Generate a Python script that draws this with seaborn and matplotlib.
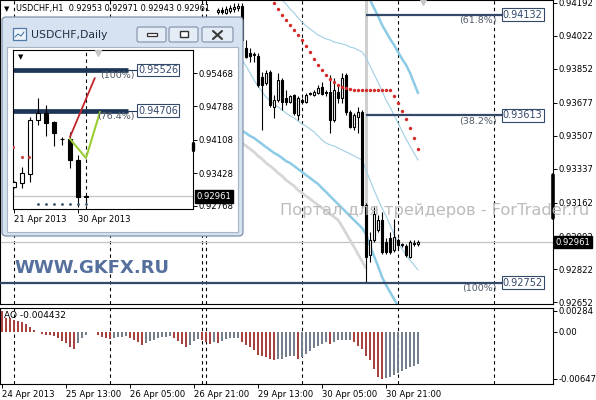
import numpy as np
import pandas as pd
import matplotlib
matplotlib.use("Agg")
import matplotlib.pyplot as plt
import matplotlib.patches as mpatches
import matplotlib.transforms as mtransforms
import seaborn as sns

W, H = 596, 400

# ---------------- H1 candles (bar index 104 = current bar) ----------------
bars = list(range(54, 105))
opens = [0.94146, 0.94156, 0.94141, 0.94151, 0.94161, 0.94166, 0.94177, 0.93960, 0.93935, 0.93924,
         0.93919, 0.93811, 0.93780, 0.93837, 0.93656, 0.93692, 0.93795, 0.93703, 0.93682, 0.93718,
         0.93615, 0.93692, 0.93682, 0.93723, 0.93718, 0.93728, 0.93759, 0.93734, 0.93734, 0.93589,
         0.93734, 0.93703, 0.93821, 0.93631, 0.93553, 0.93605, 0.93631, 0.93152, 0.92894, 0.92971,
         0.93023, 0.93074, 0.92961, 0.92982, 0.92920, 0.92971, 0.92946, 0.92941, 0.92884, 0.92956,
         0.92953]
highs = [0.94166, 0.94171, 0.94177, 0.94182, 0.94192, 0.94192, 0.94192, 0.94001, 0.93960, 0.93940,
         0.93935, 0.93837, 0.93847, 0.93847, 0.93718, 0.93832, 0.93806, 0.93744, 0.93718, 0.93723,
         0.93713, 0.93703, 0.93728, 0.93734, 0.93744, 0.93770, 0.93785, 0.93744, 0.93821, 0.93806,
         0.93770, 0.93832, 0.93832, 0.93641, 0.93625, 0.93656, 0.93641, 0.93162, 0.93013, 0.93141,
         0.93100, 0.93116, 0.92982, 0.93013, 0.93080, 0.92982, 0.92956, 0.92951, 0.92971, 0.92971,
         0.92971]
lows = [0.94135, 0.94135, 0.94135, 0.94141, 0.94146, 0.94151, 0.93991, 0.93909, 0.93888, 0.93888,
        0.93759, 0.93538, 0.93770, 0.93656, 0.93600, 0.93682, 0.93641, 0.93667, 0.93677, 0.93615,
        0.93589, 0.93677, 0.93677, 0.93718, 0.93713, 0.93723, 0.93718, 0.93713, 0.93523, 0.93579,
        0.93677, 0.93677, 0.93615, 0.93548, 0.93538, 0.93523, 0.93136, 0.92755, 0.92858, 0.92961,
        0.93013, 0.92900, 0.92900, 0.92900, 0.92910, 0.92931, 0.92936, 0.92884, 0.92879, 0.92941,
        0.92943]
closes = [0.94156, 0.94146, 0.94161, 0.94166, 0.94171, 0.94177, 0.94001, 0.93914, 0.93919, 0.93929,
          0.93770, 0.93770, 0.93832, 0.93667, 0.93692, 0.93795, 0.93682, 0.93682, 0.93713, 0.93625,
          0.93703, 0.93682, 0.93718, 0.93728, 0.93734, 0.93754, 0.93723, 0.93728, 0.93589, 0.93744,
          0.93703, 0.93806, 0.93631, 0.93553, 0.93615, 0.93631, 0.93152, 0.92884, 0.92971, 0.93105,
          0.93074, 0.92910, 0.92910, 0.92910, 0.92987, 0.92946, 0.92951, 0.92894, 0.92961, 0.92951,
          0.92961]

# indicator lines on the H1 chart
env_up_bars = list(range(91, 105))
env_up = [0.94248, 0.94207, 0.94166, 0.94125, 0.94079, 0.94043, 0.94007, 0.93976, 0.93940, 0.93904,
          0.93873, 0.93832, 0.93780, 0.93728]
bb_up_bars = list(range(70, 105))
bb_up = [0.94207, 0.94187, 0.94161, 0.94141, 0.94115, 0.94094, 0.94074, 0.94058, 0.94043, 0.94027,
         0.94017, 0.94007, 0.94001, 0.93991, 0.93986, 0.93981, 0.93976, 0.93965, 0.93960, 0.93950,
         0.93940, 0.93909, 0.93868, 0.93826, 0.93785, 0.93739, 0.93692, 0.93656, 0.93615, 0.93574,
         0.93533, 0.93492, 0.93455, 0.93419, 0.93383]
bb_low_bars = list(range(60, 105))
bb_low = [0.93898, 0.93868, 0.93832, 0.93795, 0.93764, 0.93734, 0.93708, 0.93687, 0.93672, 0.93656,
          0.93641, 0.93625, 0.93610, 0.93600, 0.93584, 0.93569, 0.93558, 0.93543, 0.93528, 0.93507,
          0.93487, 0.93471, 0.93461, 0.93456, 0.93445, 0.93435, 0.93425, 0.93415, 0.93404, 0.93394,
          0.93383, 0.93332, 0.93280, 0.93229, 0.93182, 0.93136, 0.93095, 0.93049, 0.93002, 0.92956,
          0.92925, 0.92894, 0.92868, 0.92843, 0.92817]
env_low_bars = list(range(60, 100))
env_low = [0.93533, 0.93522, 0.93507, 0.93497, 0.93481, 0.93466, 0.93450, 0.93435, 0.93420, 0.93409,
           0.93394, 0.93378, 0.93368, 0.93353, 0.93337, 0.93322, 0.93306, 0.93291, 0.93275, 0.93260,
           0.93239, 0.93219, 0.93198, 0.93177, 0.93157, 0.93136, 0.93116, 0.93095, 0.93074, 0.93054,
           0.93033, 0.93002, 0.92941, 0.92889, 0.92838, 0.92781, 0.92740, 0.92704, 0.92668, 0.92632]
ma_bars = list(range(60, 92))
ma_gray = [0.93471, 0.93456, 0.93440, 0.93425, 0.93404, 0.93389, 0.93368, 0.93353, 0.93337, 0.93317,
           0.93301, 0.93280, 0.93265, 0.93250, 0.93229, 0.93214, 0.93198, 0.93183, 0.93167, 0.93152,
           0.93136, 0.93121, 0.93105, 0.93090, 0.93074, 0.93043, 0.93007, 0.92971, 0.92936, 0.92899,
           0.92863, 0.92827]
sar_bars = list(range(68, 105))
sar = [0.94192, 0.94161, 0.94130, 0.94104, 0.94079, 0.94053, 0.94027, 0.94001, 0.93971, 0.93940,
       0.93904, 0.93873, 0.93847, 0.93821, 0.93801, 0.93785, 0.93770, 0.93759, 0.93754, 0.93749,
       0.93744, 0.93744, 0.93744, 0.93744, 0.93744, 0.93744, 0.93744, 0.93744, 0.93744, 0.93744,
       0.93713, 0.93677, 0.93636, 0.93595, 0.93548, 0.93497, 0.93440]

fib_levels = [0.94132, 0.93613, 0.92752]
fib_names = ["(61.8%)", "(38.2%)", "(100%)"]
fib_start = [91, 91, -0.5]
fib_end = 130.75
current = 0.92961

price_ticks = [0.94192, 0.94022, 0.93852, 0.93677, 0.93507, 0.93337, 0.93162, 0.92992, 0.92822, 0.92652]
separators = [3, 27, 50.1, 51.1, 75, 99, 123]
date_pos = [0, 16, 32, 48, 64, 80, 96]
date_labels = ["24 Apr 2013", "25 Apr 13:00", "26 Apr 05:00", "26 Apr 21:00",
               "29 Apr 13:00", "30 Apr 05:00", "30 Apr 21:00"]

# ---------------- Awesome Oscillator ----------------
ao = [0.00284, 0.00190, 0.00181, 0.00158, 0.00144, 0.00126, 0.00098, 0.00066, 0.00021, 0.0,
      -0.00039, -0.00042, -0.00048, -0.00057, -0.00094, -0.00130, -0.00162, -0.00208, -0.00240, -0.00162,
      -0.00094, -0.00048, 0.0, 0.0, -0.00048, -0.00071, -0.00094, -0.00103, -0.00094, -0.00080,
      -0.00071, -0.00066, -0.00094, -0.00117, -0.00149, -0.00185, -0.00162, -0.00130, -0.00117, -0.00094,
      -0.00080, -0.00071, -0.00068, -0.00094, -0.00130, -0.00176, -0.00208, -0.00180, -0.00125, -0.00100,
      -0.00120, -0.00150, -0.00165, -0.00140, -0.00160, -0.00135, -0.00100, -0.00095, -0.00092, -0.00090,
      -0.00146, -0.00183, -0.00215, -0.00260, -0.00320, -0.00338, -0.00352, -0.00375, -0.00397, -0.00380,
      -0.00372, -0.00352, -0.00340, -0.00330, -0.00375, -0.00352, -0.00306, -0.00261, -0.00229, -0.00201,
      -0.00169, -0.00146, -0.00169, -0.00146, -0.00123, -0.00120, -0.00118, -0.00115, -0.00146, -0.00192,
      -0.00238, -0.00329, -0.00397, -0.00512, -0.00626, -0.00647, -0.00640, -0.00622, -0.00600, -0.00572,
      -0.00543, -0.00512, -0.00488, -0.00466, -0.004432]
ao_bars = list(range(len(ao)))

# ---------------- Daily inset ----------------
days = list(range(10))
d_open = [0.93154, 0.93235, 0.93418, 0.94514, 0.94656, 0.94473, 0.94128, 0.94128, 0.93702, 0.92953]
d_high = [0.93280, 0.93560, 0.94575, 0.94961, 0.94818, 0.94493, 0.94169, 0.94270, 0.93803, 0.92991]
d_low = [0.93130, 0.93133, 0.93255, 0.94412, 0.94189, 0.93986, 0.94006, 0.93540, 0.92748, 0.92829]
d_close = [0.93255, 0.93438, 0.94514, 0.94656, 0.94453, 0.94250, 0.94138, 0.93702, 0.92951, 0.92961]
d_levels = [0.95526, 0.94706]
d_names = ["(100%)", "(76.4%)"]
d_ticks = [0.95468, 0.94788, 0.94108, 0.93428, 0.92768]
d_red_x = [7, 10.1]
d_red_y = [0.94169, 0.95366]
d_green_x = [7, 9, 10.75]
d_green_y = [0.94128, 0.93742, 0.94676]
d_sar_x = [-0.1, 1, 1.9]
d_sar = [0.93966, 0.93763, 0.93763]
d_dots_x = [3, 4, 5, 6, 7, 8, 9]
d_dots = [0.92809] * 7

sns.set_theme(style="white")
plt.rcParams["font.family"] = ["DejaVu Sans"]

RED = "#b8322f"
GRAY = "#6f7f90"
FIB = "#34486a"
FS = 6.1

fig = plt.figure(figsize=(W / 100, H / 100), dpi=100)
fig.patch.set_facecolor("white")


def px_axes(x0, y0, x1, y1, z=1):
    return fig.add_axes([x0 / W, 1 - y1 / H, (x1 - x0) / W, (y1 - y0) / H], zorder=z)


def candles(ax, x, o, h, l, c, width, lw=0.8):
    x, o, h, l, c = map(np.asarray, (x, o, h, l, c))
    ax.vlines(x, l, h, color="black", lw=lw, zorder=3)
    up = c >= o
    body = np.maximum(np.abs(c - o), 0.00002)
    ax.bar(x[up], body[up], width, bottom=o[up], color="white", edgecolor="black", lw=lw, zorder=4)
    ax.bar(x[~up], body[~up], width, bottom=c[~up], color="black", edgecolor="black", lw=lw, zorder=4)


def style_axes(ax):
    for s in ax.spines.values():
        s.set_color("black")
        s.set_linewidth(0.8)
    ax.yaxis.tick_right()
    ax.tick_params(axis="y", which="both", right=True, left=False, length=3, width=0.7,
                   labelsize=FS, pad=1.2, colors="black")


# ================= main H1 chart =================
ax = px_axes(0, 0, 553, 304)
ax.set_facecolor("white")
ax.set_xlim(-0.5, 137.75)
ax.set_ylim(0.92642, 0.94207)

for s in separators:
    ax.axvline(s, color="black", lw=0.8, ls=(0, (3, 3)), zorder=1)
ax.axhline(current, color="#c4c4c4", lw=0.9, zorder=1)
ax.plot([91, 91], [current, 0.94207], color="#cfcfcf", lw=2.2, zorder=1)

sns.lineplot(x=ma_bars, y=ma_gray, ax=ax, color="#d6d6d6", lw=2.0, zorder=2)
sns.lineplot(x=env_low_bars, y=env_low, ax=ax, color="#8ccbe6", lw=1.8, zorder=2)
sns.lineplot(x=env_up_bars, y=env_up, ax=ax, color="#8ccbe6", lw=1.8, zorder=2)
sns.lineplot(x=bb_up_bars, y=bb_up, ax=ax, color="#9fcfe3", lw=0.8, zorder=2)
sns.lineplot(x=bb_low_bars, y=bb_low, ax=ax, color="#9fcfe3", lw=0.8, zorder=2)

candles(ax, bars, opens, highs, lows, closes, 0.62)
sns.scatterplot(x=sar_bars, y=sar, ax=ax, color="#d42a2a", s=6, linewidth=0, zorder=5)

for lvl, name, x0 in zip(fib_levels, fib_names, fib_start):
    ax.plot([x0, fib_end], [lvl, lvl], color=FIB, lw=1.6, zorder=5, solid_capstyle="butt")
    ax.text(125.2, lvl, f"{lvl:.5f}", fontsize=7, color=FIB, va="center", ha="left", zorder=6,
            bbox=dict(boxstyle="square,pad=0.12", fc="white", ec=FIB, lw=0.8))
    ax.text(123.6, lvl - 0.00008, name, fontsize=6.8, color="#505a66", va="top", ha="right", zorder=6)

ax.plot([105.3], [0.94195], marker="v", color="#c6c6c6", ms=5, zorder=6, clip_on=False)

style_axes(ax)
ax.set_yticks(price_ticks)
ax.set_yticklabels([f"{p:.5f}" for p in price_ticks])
ax.set_xticks([])
ax.set_xlabel("")
ax.set_ylabel("")
rt = mtransforms.blended_transform_factory(ax.transAxes, ax.transData)
ax.plot([1.0, 1.0], [0.93085, 0.93306], transform=rt, color="black", lw=2.6, clip_on=False, zorder=7)
ax.text(1.004, current, f"{current:.5f}", transform=rt, fontsize=FS, color="white", va="center",
        ha="left", zorder=8, clip_on=False,
        bbox=dict(boxstyle="square,pad=0.18", fc="black", ec="black"))

# ================= AO panel =================
ax2 = px_axes(0, 308, 553, 384)
ao_df = pd.DataFrame({"bar": ao_bars, "ao": ao})
ao_df["dir"] = np.where(ao_df["ao"].diff().fillna(-1) < 0, "down", "up")
sns.barplot(data=ao_df, x="bar", y="ao", hue="dir", palette={"down": RED, "up": GRAY},
            native_scale=True, width=0.3, dodge=False, errorbar=None, legend=False,
            linewidth=0, ax=ax2, zorder=3)
for s in separators:
    ax2.axvline(s, color="black", lw=0.8, ls=(0, (3, 3)), zorder=1)
ax2.set_xlim(-0.5, 137.75)
ax2.set_ylim(-0.00719, 0.00322)
style_axes(ax2)
ax2.set_yticks([0.00284, 0.0, -0.00647])
ax2.set_yticklabels(["0.00284", "0.00", "-0.00647"])
ax2.set_xticks(date_pos)
ax2.set_xticklabels(date_labels)
ax2.tick_params(axis="x", bottom=True, length=3, width=0.7, labelsize=FS, pad=1.5, colors="black")
for t in ax2.get_xticklabels():
    t.set_ha("left")
ax2.set_xlabel("")
ax2.set_ylabel("")
ax2.text(0.008, 0.9, "AO -0.004432", transform=ax2.transAxes, fontsize=6.5, va="center",
         ha="left", color="black")

# ================= Daily window (inset) =================
axw = px_axes(0, 15, 246, 240, z=5)
axw.set_xlim(0, 246)
axw.set_ylim(240, 15)
axw.axis("off")
axw.add_patch(mpatches.FancyBboxPatch((2, 17), 241, 219, boxstyle="round,pad=0,rounding_size=4",
                                      fc="#d6e2ef", ec="#8193ab", lw=0.9))
axw.add_patch(mpatches.Rectangle((7, 47), 231, 185, fc="white", ec="#a7b4c4", lw=0.8))
axw.add_patch(mpatches.Rectangle((13, 28), 13, 12, fc="#eef4fb", ec="#4f79a8", lw=0.9))
axw.plot([15, 18, 21, 24], [37, 34, 36, 32], color="#4f79a8", lw=0.8)
axw.text(31, 35, "USDCHF,Daily", fontsize=7.8, color="#1f2f46", va="center", ha="left")
for bx, bw in [(137, 29), (169, 29), (202, 31)]:
    axw.add_patch(mpatches.FancyBboxPatch((bx, 27), bw, 15, boxstyle="round,pad=0,rounding_size=2",
                                          fc="#e4ecf5", ec="#7d8fa8", lw=0.8))
axw.add_patch(mpatches.Rectangle((147, 33), 10, 3, fc="white", ec="#333333", lw=0.9))
axw.add_patch(mpatches.Rectangle((180, 31), 8, 6, fc="white", ec="#333333", lw=1.0))
axw.plot([213, 222], [31, 39], color="#3a3a3a", lw=1.5)
axw.plot([213, 222], [39, 31], color="#3a3a3a", lw=1.5)

axi = px_axes(13, 50, 193, 209, z=6)
axi.set_facecolor("white")
axi.set_xlim(-0.125, 22.375)
axi.set_ylim(0.92707, 0.95935)
axi.axvline(9, color="black", lw=0.8, ls=(0, (3, 3)), zorder=1)
axi.axhline(current, color="#c4c4c4", lw=0.9, zorder=1)
for lvl, name in zip(d_levels, d_names):
    axi.plot([-0.125, 14.25], [lvl, lvl], color="#1d3658", lw=3.4, solid_capstyle="butt", zorder=2)
    axi.plot([14.25, 15.45], [lvl, lvl], color="#1d3658", lw=0.8, zorder=2)
    axi.text(15.5, lvl, f"{lvl:.5f}", fontsize=7, color=FIB, va="center", ha="left", zorder=6,
             bbox=dict(boxstyle="square,pad=0.12", fc="white", ec=FIB, lw=0.8))
    axi.text(15.1, lvl - 0.0002, name, fontsize=6.8, color="#505a66", va="top", ha="right", zorder=6)
candles(axi, days, d_open, d_high, d_low, d_close, 0.62)
sns.lineplot(x=d_red_x, y=d_red_y, ax=axi, color="#c0262c", lw=1.3, zorder=5)
axi.plot(d_green_x, d_green_y, color="#9acd32", lw=1.5, zorder=5)
sns.scatterplot(x=d_sar_x, y=d_sar, ax=axi, color="#c94040", s=5, linewidth=0, zorder=5)
sns.scatterplot(x=d_dots_x, y=d_dots, ax=axi, color="#3c4f6a", s=4, linewidth=0, zorder=5)
axi.plot([10.5], [0.95880], marker="v", color="#c6c6c6", ms=5, zorder=6)
style_axes(axi)
axi.set_yticks(d_ticks)
axi.set_yticklabels([f"{p:.5f}" for p in d_ticks])
axi.set_xticks([0, 8])
axi.set_xticklabels(["21 Apr 2013", "30 Apr 2013"])
axi.tick_params(axis="x", bottom=True, length=3, width=0.7, labelsize=FS, pad=1.5, colors="black")
for t in axi.get_xticklabels():
    t.set_ha("left")
axi.set_xlabel("")
axi.set_ylabel("")
rti = mtransforms.blended_transform_factory(axi.transAxes, axi.transData)
axi.plot([1.0, 1.0], [0.93905, 0.94047], transform=rti, color="black", lw=2.4, clip_on=False, zorder=7)
axi.text(1.02, current, f"{current:.5f}", transform=rti, fontsize=FS, color="white", va="center",
         ha="left", zorder=8, clip_on=False,
         bbox=dict(boxstyle="square,pad=0.18", fc="black", ec="black"))
axi.text(0.045, 0.955, "▼", transform=axi.transAxes, fontsize=5, ha="center", va="center", color="black")

# ================= header and watermarks =================
fig.text(7 / W, 1 - 9 / H, "▼", fontsize=5, ha="center", va="center", color="black", zorder=20)
fig.text(16 / W, 1 - 9 / H, "USDCHF,H1  0.92953 0.92971 0.92943 0.92961", fontsize=5.9,
         ha="left", va="center", color="black", zorder=20)
fig.text(14 / W, 1 - 268 / H, "WWW.GKFX.RU", fontsize=13, fontweight="bold", color="#56709e",
         ha="left", va="center", zorder=20)
fig.text(280 / W, 1 - 210 / H, "Портал для трейдеров - ForTrader.ru", fontsize=11.7,
         color="#b5b5b5", alpha=0.9, ha="left", va="center", zorder=20)

fig.savefig("out.png", dpi=100, facecolor="white")
